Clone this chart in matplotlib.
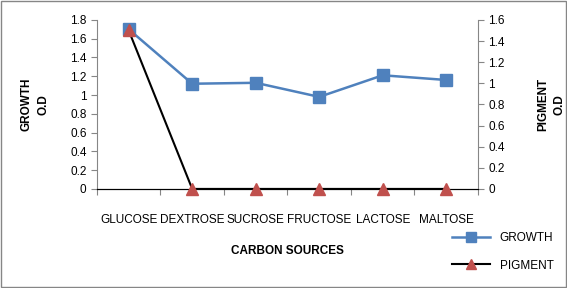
import matplotlib.pyplot as plt
from matplotlib.patches import Rectangle

plt.rcParams['font.family'] = ['Liberation Sans', 'DejaVu Sans']

# Data
sources = ['GLUCOSE', 'DEXTROSE', 'SUCROSE', 'FRUCTOSE', 'LACTOSE', 'MALTOSE']
growth = [1.70, 1.12, 1.13, 0.98, 1.21, 1.16]
pigment = [1.50, 0, 0, 0, 0, 0]

fig = plt.figure(figsize=(5.67, 2.88), dpi=100)
ax = fig.add_axes([0.171, 0.344, 0.672, 0.587])
ax2 = ax.twinx()

x = range(len(sources))
ax.plot(x, growth, color='#4F81BD', lw=1.8, marker='s', ms=8,
        mfc='#4F81BD', mec='#4F81BD', label='GROWTH', zorder=3, clip_on=False)
ax2.plot(x, pigment, color='black', lw=1.5, marker='^', ms=8,
         mfc='#C0504D', mec='#C0504D', label='PIGMENT', zorder=4, clip_on=False)

ax.set_xlim(-0.5, len(sources) - 0.5)
ax.set_ylim(0, 1.8)
ax2.set_ylim(0, 1.6)
ax.set_yticks([i * 0.2 for i in range(10)])
ax.set_yticklabels(['0', '0.2', '0.4', '0.6', '0.8', '1', '1.2', '1.4', '1.6', '1.8'])
ax2.set_yticks([i * 0.2 for i in range(9)])
ax2.set_yticklabels(['0', '0.2', '0.4', '0.6', '0.8', '1', '1.2', '1.4', '1.6'])

# category ticks between groups, labels at centers
ax.set_xticks([i - 0.5 for i in range(len(sources) + 1)])
ax.set_xticklabels([])
ax.set_xticks(list(x), minor=True)
ax.set_xticklabels(sources, minor=True)
ax.tick_params(axis='x', which='minor', length=0, pad=18, labelsize=8.5)
ax.tick_params(axis='x', which='major', length=4, color='#868686', direction='out')

for a in (ax, ax2):
    a.spines['top'].set_visible(False)
    a.spines['left'].set_color('#868686')
    a.spines['right'].set_color('#868686')
    a.spines['bottom'].set_color('black')
    a.tick_params(axis='y', length=4, color='#868686', labelsize=8.5)
ax.spines['right'].set_visible(False)
ax2.spines['left'].set_visible(False)

ax.set_ylabel('GROWTH\nO.D', fontsize=8.5, fontweight='bold', labelpad=15, linespacing=1.5)
ax2.set_ylabel('PIGMENT\nO.D', fontsize=8.5, fontweight='bold', labelpad=23,
               rotation=90, linespacing=1.5)
ax.set_xlabel('CARBON SOURCES', fontsize=8.5, fontweight='bold', labelpad=14)

h1, l1 = ax.get_legend_handles_labels()
h2, l2 = ax2.get_legend_handles_labels()
fig.legend(h1 + h2, l1 + l2, loc='lower right', bbox_to_anchor=(0.995, 0.02),
           frameon=False, fontsize=8.5, labelspacing=1.3, handlelength=3.2,
           markerscale=0.85)

fig.patches.append(Rectangle((0.002, 0.004), 0.996, 0.992, transform=fig.transFigure,
                             fill=False, edgecolor='#868686', lw=1))

fig.savefig('out.png', dpi=100)
